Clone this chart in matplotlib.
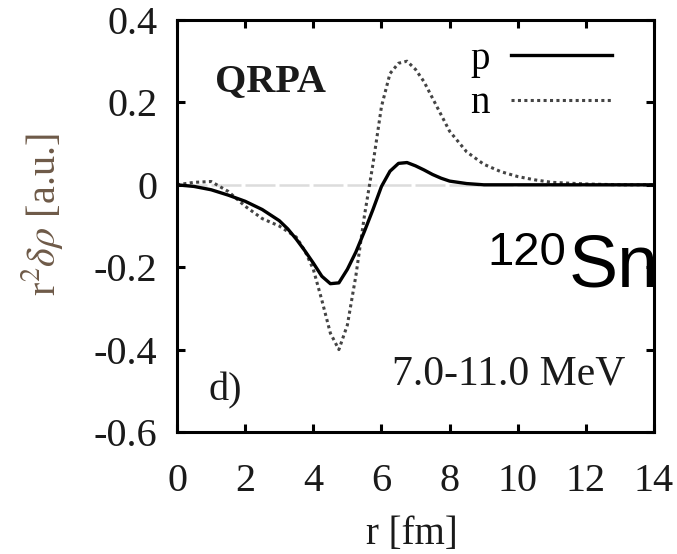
import matplotlib
matplotlib.use("Agg")
import matplotlib.pyplot as plt

plt.rcParams['font.family'] = ['Liberation Serif', 'DejaVu Serif']
plt.rcParams['mathtext.fontset'] = 'stix'

# transition densities r^2 drho, QRPA, 7.0-11.0 MeV
r_p = [0, 0.5, 1, 1.5, 2, 2.5, 3, 3.25, 3.5, 3.75, 4, 4.25, 4.5, 4.75, 5, 5.25,
       5.5, 5.75, 6, 6.25, 6.5, 6.75, 7, 7.25, 7.5, 7.75, 8, 8.5, 9, 10, 11, 12,
       13, 14]
rho_p = [0, -0.004, -0.012, -0.025, -0.04, -0.06, -0.087, -0.107, -0.132,
         -0.16, -0.19, -0.222, -0.24, -0.238, -0.205, -0.163, -0.113, -0.06,
         -0.004, 0.033, 0.052, 0.054, 0.046, 0.036, 0.025, 0.016, 0.009, 0.003,
         0.0, 0, 0, 0, 0, 0]

r_n = [0, 0.5, 1, 1.5, 2, 2.5, 3, 3.5, 3.75, 4, 4.25, 4.5, 4.75, 5, 5.25, 5.5,
       5.75, 6, 6.25, 6.5, 6.75, 7, 7.25, 7.5, 7.75, 8, 8.5, 9, 9.5, 10, 10.5,
       11, 12, 13, 14]
rho_n = [0, 0.006, 0.008, -0.016, -0.052, -0.082, -0.1, -0.127, -0.16, -0.205,
         -0.28, -0.36, -0.4, -0.34, -0.22, -0.075, 0.05, 0.19, 0.27, 0.295, 0.3,
         0.28, 0.25, 0.21, 0.17, 0.13, 0.08, 0.05, 0.032, 0.02, 0.012, 0.006,
         0.002, 0, 0]

xticks = [0, 2, 4, 6, 8, 10, 12, 14]
yticks = [-0.6, -0.4, -0.2, 0, 0.2, 0.4]
yticklabels = ['-0.6', '-0.4', '-0.2', '0', '0.2', '0.4']

fig = plt.figure(figsize=(6.77, 5.54), dpi=100)
ax = fig.add_axes([0.2615, 0.2202, 0.7046, 0.7437])

ax.axhline(0, color='#dcdcdc', lw=1.8, dashes=(12, 1.6), zorder=1)
ax.plot(r_p, rho_p, color='black', lw=2.4, label='p', zorder=3)
ax.plot(r_n, rho_n, color='#444444', lw=2.2, ls=(0, (1, 1.1)), label='n', zorder=2)

ax.set_xlim(0, 14)
ax.set_ylim(-0.6, 0.4)
ax.set_xticks(xticks)
ax.set_yticks(yticks)
ax.set_yticklabels(yticklabels)
for s in ax.spines.values():
    s.set_linewidth(2.2)
ax.tick_params(direction='in', length=6, width=2.2, top=True, right=True,
               labelsize=29, labelcolor='#1a1a1a')
ax.tick_params(axis='x', pad=22)
ax.tick_params(axis='y', pad=14)

ax.set_xlabel('r [fm]', fontsize=28, color='#1a1a1a')
ax.xaxis.set_label_coords(0.493, -0.205)
ax.set_ylabel(r'r$^2\delta\rho$ [a.u.]', fontsize=29, color='#6e5a48')
ax.yaxis.set_label_coords(-0.235, 0.527)

leg = ax.legend(loc='upper right', bbox_to_anchor=(0.912, 0.95), frameon=False,
                markerfirst=False, fontsize=28, handlelength=2.6, handletextpad=0.55,
                labelspacing=0.2, borderpad=0, borderaxespad=0)

ax.text(0.08, 0.85, 'QRPA', transform=ax.transAxes, fontsize=29,
        fontweight='bold', va='center', color='#1a1a1a')
ax.text(0.065, 0.1, 'd)', transform=ax.transAxes, fontsize=29,
        va='center', color='#1a1a1a')
ax.text(0.451, 0.14, '7.0-11.0 MeV', transform=ax.transAxes, fontsize=30,
        va='center', color='#1a1a1a')

# nucleus label, clipped at the frame
ax.text(0.65, 0.405, '120', transform=ax.transAxes, fontsize=34,
        family='Liberation Sans', va='baseline', clip_on=True)
ax.text(0.82, 0.352, 'Sn', transform=ax.transAxes, fontsize=53,
        family='Liberation Sans', va='baseline', clip_on=True)

fig.savefig('out.png', dpi=100)
